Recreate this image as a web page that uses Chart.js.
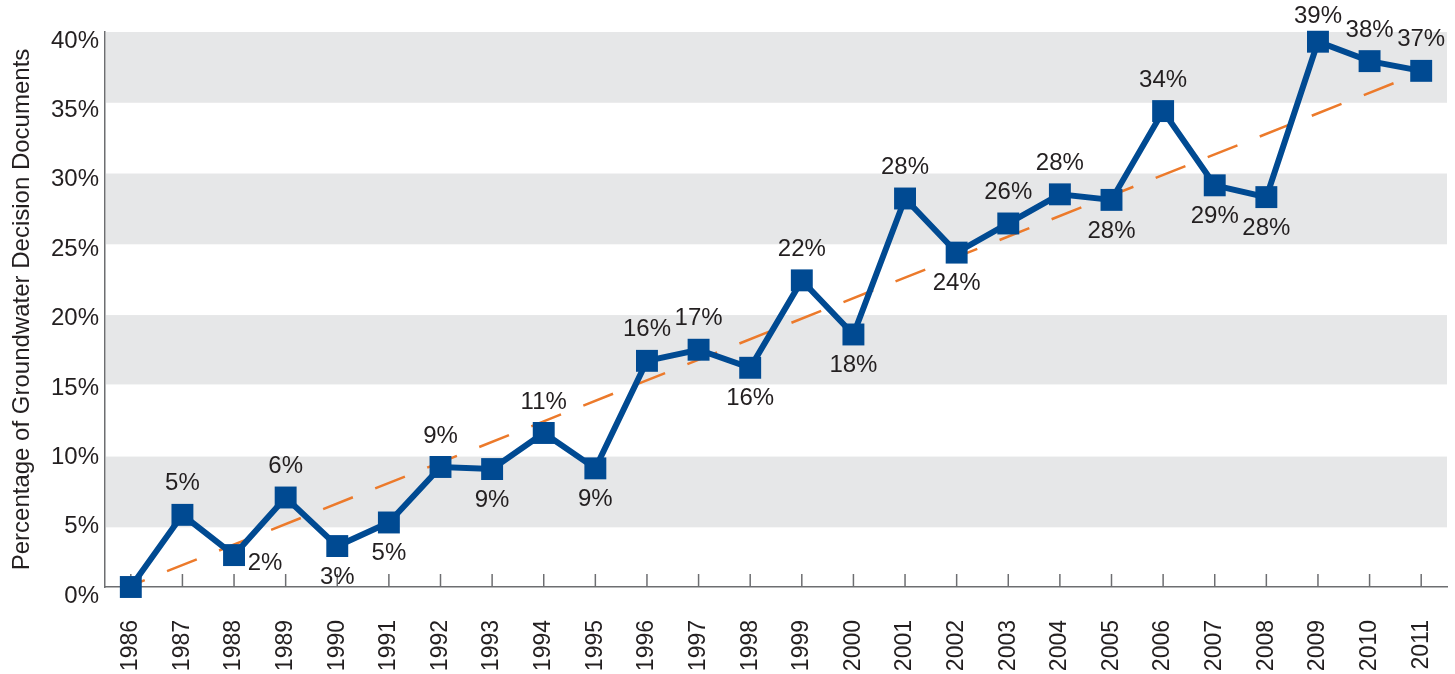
<!DOCTYPE html>
<html>
<head>
<meta charset="utf-8">
<script src="https://cdn.jsdelivr.net/npm/chart.js@4"></script>
<style>
  html, body { margin: 0; padding: 0; background: #fff; }
  #wrap { width: 1455px; height: 674px; }
</style>
</head>
<body>
<div id="wrap"><canvas id="chart" width="1455" height="674"></canvas></div>
<script>
const years = ['1986', '1987', '1988', '1989', '1990', '1991', '1992', '1993', '1994',
    '1995', '1996', '1997', '1998', '1999', '2000', '2001', '2002', '2003', '2004',
    '2005', '2006', '2007', '2008', '2009', '2010', '2011'];

// percentage
const shares = [0, 5.2, 2.3, 6.45, 2.95, 4.65, 8.65, 8.5, 11.1, 8.55, 16.3, 17.1, 15.8,
    22.1, 18.2, 28.0, 24.1, 26.2, 28.3, 27.9, 34.3, 28.95, 28.1, 39.3, 37.9, 37.2];

// printed labels (as in the original)
const shareLabels = ['', '5%', '2%', '6%', '3%', '5%', '9%', '9%', '11%', '9%', '16%', '17%',
    '16%', '22%', '18%', '28%', '24%', '26%', '28%', '28%', '34%', '29%', '28%', '39%', '38%', '37%'];
const labelSide = ['above', 'above', 'right', 'above', 'below', 'below', 'above', 'below',
    'above', 'below', 'above', 'above', 'below', 'above', 'below', 'above', 'below', 'above',
    'above', 'below', 'above', 'below', 'below', 'above', 'above', 'above'];

// trend line end points
const trendStart = 0.1;
const trendEnd = 37.1;

const yTicks = [0, 5, 10, 15, 20, 25, 30, 35, 40];

const BLUE = '#004a92';
const ORANGE = '#ec7a2b';
const AXIS = '#6d6e71';
const TEXT = '#231f20';
const FONT = "'Liberation Sans', Arial, sans-serif";

// grey bands behind the plot + upward x ticks
const bandsPlugin = {
    id: 'bands',
    beforeDatasetsDraw(chart) {
        const { ctx, chartArea, scales } = chart;
        const bands = [[40, 34.9], [29.8, 24.7], [19.6, 14.6], [9.4, 4.3]];
        ctx.save();
        ctx.fillStyle = '#e6e7e8';
        bands.forEach(b => {
            const y1 = scales.y.getPixelForValue(b[0]);
            const y2 = scales.y.getPixelForValue(b[1]);
            ctx.fillRect(chartArea.left + 1, y1, chartArea.right - chartArea.left - 1, y2 - y1);
        });
        ctx.strokeStyle = AXIS;
        ctx.lineWidth = 1.5;
        years.forEach((yr, i) => {
            const x = scales.x.getPixelForValue(i);
            ctx.beginPath();
            ctx.moveTo(x, chartArea.bottom);
            ctx.lineTo(x, chartArea.bottom - 13);
            ctx.stroke();
        });
        ctx.restore();
    }
};

// value labels next to the markers
const labelsPlugin = {
    id: 'pointLabels',
    afterDatasetsDraw(chart) {
        const { ctx } = chart;
        const meta = chart.getDatasetMeta(0);
        ctx.save();
        ctx.font = '24px ' + FONT;
        ctx.fillStyle = TEXT;
        ctx.textAlign = 'center';
        ctx.textBaseline = 'middle';
        meta.data.forEach((pt, i) => {
            const txt = shareLabels[i];
            if (!txt) return;
            let x = pt.x, y = pt.y;
            if (labelSide[i] === 'above') y = Math.max(y - 31, 16);
            else if (labelSide[i] === 'below') y += 31;
            else { x += 31; y += 8; }
            ctx.fillText(txt, x, y);
        });
        ctx.restore();
    }
};

const ctx = document.getElementById('chart').getContext('2d');

const chart = new Chart(ctx, {
    type: 'line',
    data: {
        labels: years,
        datasets: [{
            label: 'Share',
            data: shares,
            borderColor: BLUE,
            backgroundColor: BLUE,
            borderWidth: 6,
            pointStyle: 'rect',
            pointRadius: 15.5,
            pointBorderWidth: 0,
            pointBackgroundColor: BLUE,
            tension: 0,
            clip: false,
            order: 0
        }, {
            label: 'Trend',
            data: [{ x: years[0], y: trendStart }, { x: years[years.length - 1], y: trendEnd }],
            borderColor: ORANGE,
            borderWidth: 2.5,
            borderDash: [32, 24],
            borderDashOffset: 17,
            pointRadius: 0,
            order: 1
        }]
    },
    options: {
        responsive: false,
        animation: false,
        layout: { autoPadding: false, padding: { top: 32, right: 8, left: 0, bottom: 0 } },
        plugins: {
            legend: { display: false },
            tooltip: { enabled: false }
        },
        scales: {
            x: {
                offset: true,
                grid: { display: false, drawTicks: false },
                border: { display: true, color: AXIS, width: 1.5 },
                ticks: {
                    autoSkip: false,
                    maxRotation: 90,
                    minRotation: 90,
                    padding: 33,
                    color: TEXT,
                    font: { family: FONT, size: 23 }
                },
                afterFit(scale) {
                    scale.height = 87;
                    scale.paddingLeft = 0;
                    scale.paddingRight = 0;
                }
            },
            y: {
                min: 0,
                max: 40,
                afterBuildTicks(scale) {
                    scale.ticks = yTicks.map(v => ({ value: v }));
                },
                grid: { display: false, drawTicks: false },
                border: { display: true, color: AXIS, width: 1.5 },
                ticks: {
                    padding: 6,
                    labelOffset: 9,
                    color: TEXT,
                    font: { family: FONT, size: 24 },
                    callback: v => v + '%'
                },
                title: {
                    display: true,
                    text: 'Percentage of Groundwater Decision Documents',
                    color: TEXT,
                    font: { family: FONT, size: 24 },
                    padding: { top: 8, bottom: 4 }
                },
                afterFit(scale) { scale.width = 105; }
            }
        }
    },
    plugins: [bandsPlugin, labelsPlugin]
});
</script>
</body>
</html>
